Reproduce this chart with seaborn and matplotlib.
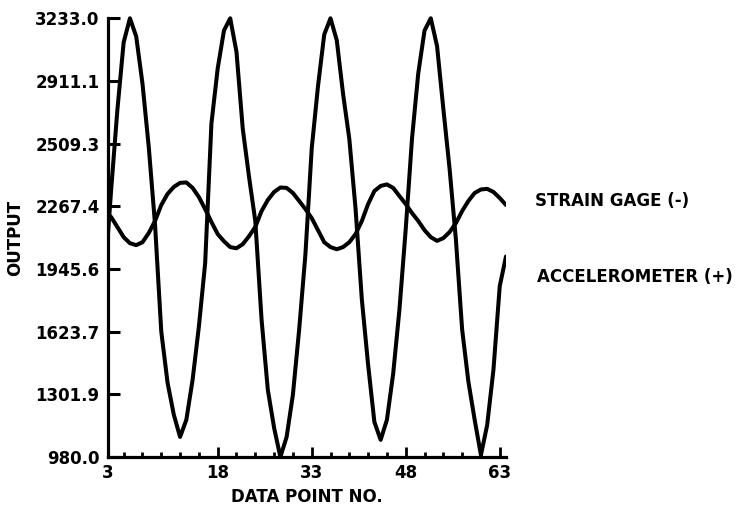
import numpy as np
import pandas as pd
import matplotlib
matplotlib.use("Agg")
import matplotlib.pyplot as plt
from matplotlib.patches import Rectangle
from matplotlib.ticker import FixedLocator
import seaborn as sns

# Sample index along the record
points = list(range(0, 65))

# Accelerometer output (+)
accelerometer = [
    1900, 2351, 2764, 3110, 3233, 3140, 2898, 2573, 2176, 1624,
    1362, 1197, 1083, 1171, 1377, 1650, 1975, 2692, 2975, 3170,
    3233, 3060, 2666, 2419, 2192, 1686, 1325, 1130, 980, 1083,
    1300, 1635, 2022, 2563, 2883, 3150, 3233, 3120, 2846, 2614,
    2254, 1789, 1454, 1160, 1068, 1171, 1408, 1738, 2150, 2614,
    2950, 3170, 3233, 3090, 2769, 2460, 2099, 1635, 1367, 1171,
    990, 1145, 1429, 1857, 2010,
]

# Strain gage output (-)
strain_gage = [
    2243, 2212, 2161, 2109, 2078, 2068, 2083, 2130, 2192, 2274,
    2331, 2367, 2388, 2390, 2362, 2315, 2253, 2187, 2125, 2088,
    2058, 2052, 2073, 2114, 2161, 2243, 2300, 2341, 2364, 2362,
    2336, 2295, 2253, 2207, 2145, 2083, 2058, 2047, 2058, 2083,
    2125, 2192, 2279, 2346, 2372, 2380, 2362, 2320, 2279, 2233,
    2192, 2145, 2109, 2090, 2104, 2135, 2181, 2243, 2295, 2336,
    2354, 2357, 2341, 2310, 2274,
]

y_tick_labels = ["980.0", "1301.9", "1623.7", "1945.6",
                 "2267.4", "2509.3", "2911.1", "3233.0"]
x_tick_labels = ["3", "18", "33", "48", "63"]
series_names = ["STRAIN GAGE (-)", "ACCELEROMETER (+)"]

df = pd.concat([
    pd.DataFrame({"point": points, "output": strain_gage, "sensor": series_names[0]}),
    pd.DataFrame({"point": points, "output": accelerometer, "sensor": series_names[1]}),
])

sns.set_theme(style="ticks")
plt.rcParams["font.family"] = ["DejaVu Sans"]
plt.rcParams["font.weight"] = "bold"
plt.rcParams["text.color"] = "black"

fig = plt.figure(figsize=(7.41, 5.11), dpi=100)
ax = fig.add_axes([108 / 741, 1 - 457 / 511, (506 - 108) / 741, (457 - 18.3) / 511])

sns.lineplot(data=df, x="point", y="output", hue="sensor",
             palette={series_names[0]: "black", series_names[1]: "black"},
             estimator=None, sort=False, legend=False, linewidth=2.9, ax=ax)

x_lo, x_hi = 0.5, 64
y_lo, y_hi = 980.0, 3233.0
ax.set_xlim(x_lo, x_hi)
ax.set_ylim(y_lo, y_hi)

# Let the thick traces show fully at the top and bottom of the frame
clip = Rectangle((0, -0.03), 1, 1.06, transform=ax.transAxes, facecolor="none")
for line in ax.lines:
    line.set_clip_path(clip)
    line.set_solid_joinstyle("round")

# Axes frame: only left and bottom
sns.despine(ax=ax)
for side in ("left", "bottom"):
    ax.spines[side].set_linewidth(2.3)
    ax.spines[side].set_color("black")

# Y ticks: eight evenly spaced levels
ax.set_yticks(np.linspace(y_lo, y_hi, len(y_tick_labels)))
ax.set_yticklabels(y_tick_labels)

# X ticks: labelled every 15 points, minor every 3
ax.xaxis.set_major_locator(FixedLocator([x_lo, 18, 33, 48, 63]))
ax.set_xticklabels(x_tick_labels)
ax.xaxis.set_minor_locator(FixedLocator([v for v in range(3, 63, 3) if v not in (18, 33, 48)]))

ax.tick_params(axis="y", direction="in", length=8.5, width=2.2, pad=6,
               labelsize=12, colors="black")
ax.tick_params(axis="x", which="major", direction="in", length=7, width=2.0,
               pad=5, labelsize=12, colors="black")
ax.tick_params(axis="x", which="minor", direction="in", length=3.8, width=2.0,
               colors="black")
for lab in ax.get_xticklabels() + ax.get_yticklabels():
    lab.set_fontweight("bold")

ax.set_xlabel("DATA POINT NO.", fontsize=12, fontweight="bold", labelpad=4, color="black")
ax.set_ylabel("OUTPUT", fontsize=12, fontweight="bold", labelpad=8, color="black")

# Series names written beside the traces
ax.text(68.6, 2295, series_names[0], ha="left", va="center", color="black",
        fontsize=12, fontweight="bold", clip_on=False)
ax.text(69.0, 1903, series_names[1], ha="left", va="center", color="black",
        fontsize=12, fontweight="bold", clip_on=False)

fig.savefig("out.png", dpi=100, facecolor="white")
